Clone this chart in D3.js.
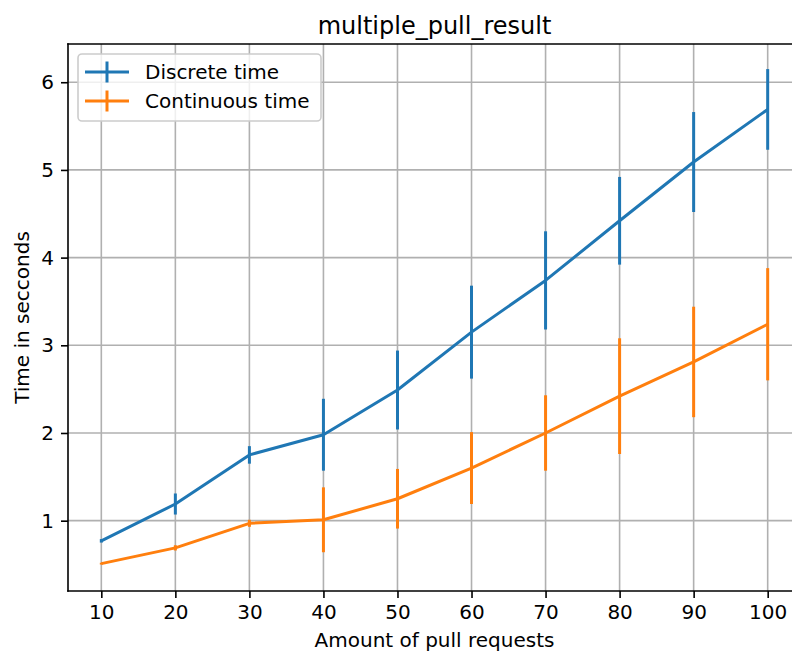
<!DOCTYPE html>
<html>
<head>
<meta charset="utf-8">
<script src="https://cdn.jsdelivr.net/npm/d3@7"></script>
<style>
  html, body { margin: 0; padding: 0; background: #fff; }
  svg { display: block; font-family: "DejaVu Sans", sans-serif; }
</style>
</head>
<body>
<svg id="chart" width="792" height="655"></svg>
<script>
// ── Data ──
const pullRequests = [10, 20, 30, 40, 50, 60, 70, 80, 90, 100];
const discreteMean = [0.77, 1.19, 1.75, 1.98, 2.49, 3.15, 3.74, 4.42, 5.09, 5.69];
const discreteErr  = [0.02, 0.12, 0.10, 0.41, 0.45, 0.53, 0.56, 0.50, 0.57, 0.46];
const continuousMean = [0.51, 0.69, 0.97, 1.01, 1.25, 1.60, 2.00, 2.42, 2.81, 3.24];
const continuousErr  = [0.01, 0.03, 0.04, 0.37, 0.34, 0.41, 0.43, 0.66, 0.63, 0.64];
const xTicks = [10, 20, 30, 40, 50, 60, 70, 80, 90, 100];
const yTicks = [1, 2, 3, 4, 5, 6];

const series = [
  { name: 'Discrete time', color: '#1f77b4', mean: discreteMean, err: discreteErr },
  { name: 'Continuous time', color: '#ff7f0e', mean: continuousMean, err: continuousErr },
];

const LEFT = 68, RIGHT = 801, TOP = 44, BOTTOM = 591;
const FONT = 20;

const svg = d3.select('#chart');

const x = d3.scaleLinear().domain([5.5, 104.5]).range([LEFT, RIGHT]);
const y = d3.scaleLinear().domain([0.198, 6.436]).range([BOTTOM, TOP]);

// grid
const grid = svg.append('g').attr('stroke', '#b0b0b0').attr('stroke-width', 1.6);
grid.selectAll('.gx').data(xTicks).join('line')
  .attr('x1', (d) => x(d)).attr('x2', (d) => x(d))
  .attr('y1', TOP).attr('y2', BOTTOM);
grid.selectAll('.gy').data(yTicks).join('line')
  .attr('x1', LEFT).attr('x2', RIGHT)
  .attr('y1', (d) => y(d)).attr('y2', (d) => y(d));

// series: line + vertical error bars
const line = d3.line().x((d) => x(d.x)).y((d) => y(d.y));
series.forEach((s) => {
  const pts = pullRequests.map((p, i) => ({ x: p, y: s.mean[i], e: s.err[i] }));
  const g = svg.append('g');
  g.append('path').datum(pts)
    .attr('d', line).attr('fill', 'none')
    .attr('stroke', s.color).attr('stroke-width', 3).attr('stroke-linejoin', 'round');
  g.selectAll('.err').data(pts).join('line')
    .attr('x1', (d) => x(d.x)).attr('x2', (d) => x(d.x))
    .attr('y1', (d) => y(d.y - d.e)).attr('y2', (d) => y(d.y + d.e))
    .attr('stroke', s.color).attr('stroke-width', 3);
});

// axes
const xAxis = svg.append('g').attr('transform', `translate(0,${BOTTOM})`)
  .call(d3.axisBottom(x).tickValues(xTicks).tickSize(7).tickPadding(7).tickFormat(d3.format('d')));
const yAxis = svg.append('g').attr('transform', `translate(${LEFT},0)`)
  .call(d3.axisLeft(y).tickValues(yTicks).tickSize(7).tickPadding(7).tickFormat(d3.format('d')));
[xAxis, yAxis].forEach((a) => {
  a.select('.domain').remove();
  a.selectAll('.tick line').attr('stroke', '#000').attr('stroke-width', 1.6);
  a.selectAll('.tick text').attr('fill', '#000')
    .style('font-size', FONT + 'px').style('font-family', '"DejaVu Sans", sans-serif');
});

// spines
svg.append('g').attr('stroke', '#000').attr('stroke-width', 1.6).attr('stroke-linecap', 'square')
  .selectAll('line')
  .data([[LEFT, TOP, LEFT, BOTTOM], [LEFT, BOTTOM, RIGHT, BOTTOM], [LEFT, TOP, RIGHT, TOP], [RIGHT, TOP, RIGHT, BOTTOM]])
  .join('line')
  .attr('x1', (d) => d[0]).attr('y1', (d) => d[1]).attr('x2', (d) => d[2]).attr('y2', (d) => d[3]);

// title & labels
svg.append('text').attr('x', (LEFT + RIGHT) / 2).attr('y', 34)
  .attr('text-anchor', 'middle').style('font-size', '24px').text('multiple_pull_result');
svg.append('text').attr('x', (LEFT + RIGHT) / 2).attr('y', 647)
  .attr('text-anchor', 'middle').style('font-size', FONT + 'px').text('Amount of pull requests');
svg.append('text').attr('transform', `translate(29,${(TOP + BOTTOM) / 2}) rotate(-90)`)
  .attr('text-anchor', 'middle').style('font-size', FONT + 'px').text('Time in secconds');

// legend
const legend = svg.append('g');
legend.append('rect').attr('x', 78).attr('y', 54).attr('width', 243).attr('height', 67)
  .attr('rx', 4).attr('fill', 'rgba(255,255,255,0.8)').attr('stroke', '#cccccc').attr('stroke-width', 1.6);
series.forEach((s, i) => {
  const cy = 72 + i * 29;
  legend.append('line').attr('x1', 85).attr('x2', 129).attr('y1', cy).attr('y2', cy)
    .attr('stroke', s.color).attr('stroke-width', 3);
  legend.append('line').attr('x1', 107).attr('x2', 107).attr('y1', cy - 10.5).attr('y2', cy + 10.5)
    .attr('stroke', s.color).attr('stroke-width', 3);
  legend.append('text').attr('x', 145).attr('y', cy + 7)
    .style('font-size', FONT + 'px').text(s.name);
});
</script>
</body>
</html>
